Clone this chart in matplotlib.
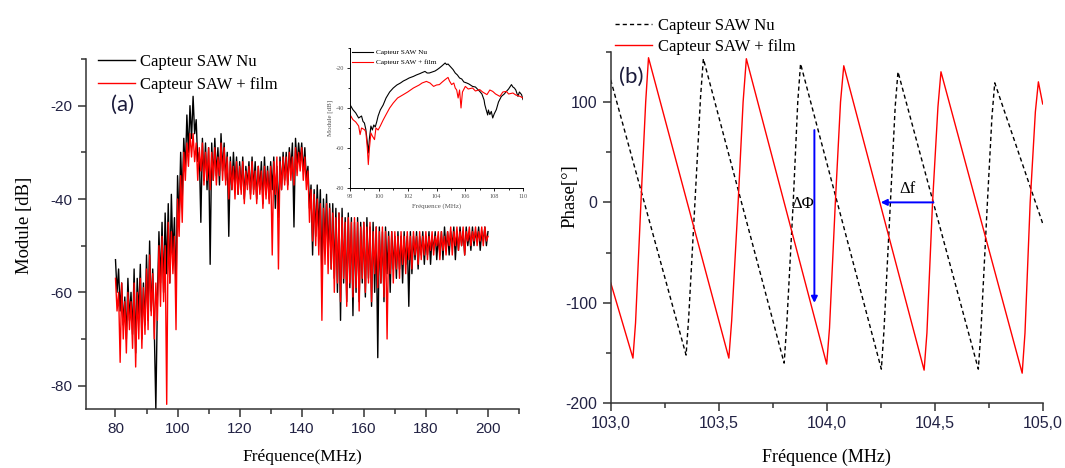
import numpy as np
import matplotlib
matplotlib.use("Agg")
from matplotlib import pyplot as plt
from matplotlib.ticker import MultipleLocator, FuncFormatter

plt.rcParams['axes.unicode_minus'] = False
plt.rcParams['font.family'] = ['Liberation Sans', 'DejaVu Sans']

SERIF = ['Liberation Serif', 'DejaVu Serif']

# ---- panel (a): spectrum, 80..200 MHz, 0.5 MHz step ----
freq_a = np.arange(80.0, 200.01, 0.5)
module_nu = [
    -53, -60, -55, -64, -58, -67, -61, -70, -57, -66,
    -60, -69, -55, -73, -57, -65, -54, -70, -58, -67,
    -52, -66, -49, -64, -55, -68, -85, -62, -47, -58,
    -45, -60, -43, -56, -41, -58, -39, -52, -44, -60,
    -35, -45, -30, -40, -27, -34, -22, -30, -20, -27,
    -18, -26, -23, -32, -30, -45, -27, -36, -28, -38,
    -29, -54, -28, -36, -27, -35, -29, -37, -26, -34,
    -28, -36, -30, -48, -31, -38, -30, -37, -31, -39,
    -32, -38, -31, -40, -33, -37, -32, -39, -31, -38,
    -32, -40, -33, -38, -32, -41, -31, -39, -33, -40,
    -32, -38, -31, -42, -33, -44, -31, -38, -30, -36,
    -30, -37, -29, -34, -28, -46, -27, -33, -28, -32,
    -28, -34, -29, -36, -33, -42, -37, -52, -38, -48,
    -37, -47, -38, -56, -40, -50, -39, -52, -41, -55,
    -41, -57, -42, -60, -43, -66, -42, -58, -44, -62,
    -43, -59, -44, -65, -45, -60, -44, -62, -45, -58,
    -45, -61, -44, -57, -46, -63, -45, -60, -46, -74,
    -46, -58, -47, -62, -46, -56, -47, -60, -47, -55,
    -48, -57, -47, -55, -48, -58, -47, -54, -48, -63,
    -47, -56, -48, -53, -47, -55, -48, -52, -47, -54,
    -48, -52, -47, -54, -48, -51, -47, -53, -48, -52,
    -47, -53, -46, -51, -47, -52, -47, -50, -46, -53,
    -47, -51, -46, -50, -47, -52, -46, -50, -47, -51,
    -46, -50, -47, -49, -46, -51, -47, -49, -46, -50,
    -47,
]
module_film = [
    -57, -64, -60, -75, -58, -70, -62, -73, -60, -68,
    -62, -72, -58, -76, -60, -70, -57, -72, -59, -69,
    -55, -68, -52, -65, -56, -70, -58, -66, -50, -63,
    -48, -62, -50, -84, -45, -58, -47, -56, -48, -68,
    -40, -48, -35, -45, -30, -36, -28, -33, -26, -31,
    -26, -32, -28, -36, -29, -34, -28, -37, -30, -36,
    -29, -38, -30, -36, -29, -37, -31, -35, -28, -36,
    -29, -37, -31, -40, -32, -38, -33, -40, -32, -39,
    -33, -39, -32, -41, -34, -38, -33, -40, -32, -39,
    -34, -41, -33, -39, -34, -42, -33, -40, -34, -41,
    -33, -52, -32, -39, -31, -55, -32, -38, -31, -37,
    -31, -38, -30, -36, -31, -37, -29, -35, -30, -34,
    -29, -36, -31, -38, -34, -45, -38, -49, -39, -50,
    -40, -52, -41, -66, -42, -54, -41, -56, -42, -55,
    -43, -60, -44, -58, -43, -62, -44, -57, -45, -63,
    -44, -58, -45, -61, -44, -59, -45, -64, -46, -57,
    -45, -60, -46, -58, -45, -62, -47, -56, -46, -59,
    -47, -58, -46, -61, -47, -70, -48, -56, -47, -58,
    -47, -55, -48, -57, -47, -54, -48, -56, -47, -53,
    -48, -55, -47, -52, -48, -54, -47, -53, -48, -52,
    -47, -53, -48, -51, -47, -52, -48, -50, -47, -53,
    -47, -51, -48, -52, -47, -50, -46, -52, -47, -50,
    -46, -51, -47, -50, -46, -52, -47, -49, -46, -50,
    -47, -49, -46, -50, -47, -49, -46, -50, -46, -49,
    -48,
]

# ---- inset: zoom 98..110 MHz ----
inset_f_nu = [98.0, 98.2, 98.4, 98.6, 98.8, 98.9, 99.0, 99.1, 99.2, 99.27, 99.35, 99.45,
              99.55, 99.65, 99.75, 99.85, 99.95, 100.1, 100.3, 100.5, 100.75, 101.0, 101.25,
              101.5, 101.7, 101.9, 102.1, 102.4, 102.6, 102.85, 103.0, 103.2, 103.35, 103.5,
              103.7, 103.9, 104.05, 104.2, 104.4, 104.6, 104.7, 104.8, 104.95, 105.15, 105.3,
              105.45, 105.6, 105.75, 105.9, 106.1, 106.25, 106.5, 106.7, 106.9, 107.0, 107.15,
              107.3, 107.35, 107.45, 107.55, 107.6, 107.7, 107.8, 107.9, 108.0, 108.15, 108.3,
              108.5, 108.7, 108.85, 109.0, 109.2, 109.3, 109.4, 109.5, 109.65, 109.75, 109.9, 110.0]
inset_nu = [-38.3, -40.8, -42.5, -45.0, -44.0, -46.7, -47.5, -50.8, -57.0, -62.5, -55.0, -49.0,
            -51.0, -48.5, -49.5, -47.0, -44.0, -41.0, -38.5, -35.0, -32.0, -30.0, -28.5,
            -27.5, -26.5, -25.8, -25.0, -24.2, -23.5, -22.8, -22.3, -21.7, -22.5, -22.5,
            -22.0, -21.5, -20.8, -20.0, -18.8, -17.5, -18.3, -18.0, -19.2, -20.8, -22.5,
            -23.5, -25.0, -25.5, -27.0, -27.5, -28.0, -29.2, -29.5, -31.0, -31.7, -33.0,
            -36.0, -38.3, -41.0, -43.5, -41.0, -43.3, -41.7, -45.0, -43.0, -40.8, -37.0,
            -34.2, -33.0, -31.7, -30.5, -28.3, -29.5, -30.0, -31.0, -34.2, -32.0, -33.3, -35.8]
inset_f_film = [98.0, 98.2, 98.4, 98.6, 98.7, 98.8, 99.0, 99.1, 99.2, 99.27, 99.35, 99.45,
                99.55, 99.7, 99.8, 99.95, 100.1, 100.3, 100.5, 100.75, 101.0, 101.3, 101.7,
                102.0, 102.4, 102.8, 103.0, 103.3, 103.55, 103.8, 104.0, 104.2, 104.4, 104.6,
                104.8, 104.9, 105.05, 105.2, 105.3, 105.4, 105.5, 105.6, 105.7, 105.8, 106.0,
                106.2, 106.5, 106.7, 107.0, 107.2, 107.5, 107.7, 107.9, 108.1, 108.4, 108.6,
                108.85, 109.0, 109.3, 109.5, 109.8, 110.0]
inset_film = [-43.3, -45.8, -47.0, -49.0, -53.3, -50.0, -50.8, -52.0, -60.0, -68.3, -60.0, -52.5,
              -54.0, -55.8, -50.0, -51.0, -49.0, -46.0, -43.3, -40.0, -37.5, -35.0, -33.3,
              -32.0, -30.0, -28.5, -27.5, -26.7, -27.5, -29.2, -28.5, -28.3, -27.0, -25.8,
              -24.7, -26.5, -28.3, -27.5, -30.0, -31.0, -35.0, -31.0, -40.0, -32.0, -29.2,
              -30.5, -30.0, -31.5, -30.8, -32.0, -33.3, -31.0, -31.7, -33.0, -34.2, -32.0,
              -31.7, -33.0, -32.5, -33.5, -34.2, -35.0]

# ---- panel (b): phase, 103..105 MHz ----
phase_f_nu = [103.000, 103.349, 103.361, 103.390, 103.416, 103.429,
              103.803, 103.815, 103.845, 103.866, 103.879,
              104.253, 104.265, 104.295, 104.317, 104.330,
              104.702, 104.714, 104.744, 104.765, 104.778, 105.000]
phase_nu = [122, -152, -115, 0, 105, 143,
            -160, -122, 0, 100, 138,
            -166, -128, 0, 95, 130,
            -166, -128, 0, 85, 119, -21]
phase_f_film = [103.000, 103.103, 103.115, 103.140, 103.162, 103.175,
                103.547, 103.560, 103.590, 103.613, 103.628,
                104.000, 104.013, 104.040, 104.064, 104.079,
                104.451, 104.464, 104.490, 104.515, 104.529,
                104.905, 104.918, 104.942, 104.966, 104.980, 105.000]
phase_film = [-80, -155, -120, 0, 100, 144,
              -155, -118, 0, 100, 143,
              -161, -125, 0, 100, 136,
              -167, -130, 0, 95, 130,
              -170, -130, 0, 90, 120, 98]

LABELS = ['Capteur SAW Nu', 'Capteur SAW + film']

W, H = 1065, 468
fig = plt.figure(figsize=(W / 100, H / 100), dpi=100)


def px_rect(x0, y0, x1, y1):
    return [x0 / W, 1 - y1 / H, (x1 - x0) / W, (y1 - y0) / H]


def style_axes(ax, size):
    for s in ('top', 'right'):
        ax.spines[s].set_visible(False)
    for s in ('left', 'bottom'):
        ax.spines[s].set_linewidth(1.1)
        ax.spines[s].set_color('#333333')
    ax.tick_params(which='major', direction='out', length=6, width=1.1,
                   color='#333333', labelsize=size, labelcolor='#222244')
    ax.tick_params(which='minor', direction='out', length=3.5, width=1.1,
                   color='#333333')


# panel (a)
ax1 = fig.add_axes(px_rect(86, 59, 519, 409))
l1, = ax1.plot(freq_a, module_nu, color='black', lw=1.0)
l2, = ax1.plot(freq_a, module_film, color='red', lw=1.0)
ax1.set_xlim(70.5, 210)
ax1.set_ylim(-85, -10)
ax1.xaxis.set_major_locator(MultipleLocator(20))
ax1.xaxis.set_minor_locator(MultipleLocator(10))
ax1.yaxis.set_major_locator(MultipleLocator(20))
ax1.yaxis.set_minor_locator(MultipleLocator(10))
style_axes(ax1, 11)
ax1.set_xlabel('Fréquence(MHz)', family=SERIF, fontsize=12.5, va='top')
ax1.xaxis.set_label_coords(0.5, (409 - 449) / 350)
ax1.set_ylabel('Module [dB]', family=SERIF, fontsize=13.5)
ax1.yaxis.set_label_coords((33 - 86) / 433, (409 - 225) / 350)
ax1.text(111 / W, 1 - 105 / H, '(a)', transform=fig.transFigure, family='Lato',
         fontsize=16, va='center', ha='left', color='#1a1a3a')
fig.legend([l1, l2], LABELS, loc='upper left', bbox_to_anchor=(98 / W, 1 - 54 / H),
           frameon=False, prop={'family': SERIF, 'size': 12}, handlelength=2.2,
           handletextpad=0.35, labelspacing=0.4, borderpad=0, borderaxespad=0)

# inset
axi = fig.add_axes(px_rect(350, 48, 523, 188))
axi.patch.set_alpha(0)
i1, = axi.plot(inset_f_nu, inset_nu, color='black', lw=0.8)
i2, = axi.plot(inset_f_film, inset_film, color='red', lw=0.8)
axi.set_xlim(98, 110)
axi.set_ylim(-80, -10)
axi.xaxis.set_major_locator(MultipleLocator(2))
axi.xaxis.set_minor_locator(MultipleLocator(1))
axi.yaxis.set_major_locator(MultipleLocator(20))
axi.yaxis.set_minor_locator(MultipleLocator(10))
for s in ('top', 'right'):
    axi.spines[s].set_visible(False)
for s in ('left', 'bottom'):
    axi.spines[s].set_linewidth(0.7)
axi.tick_params(which='major', direction='out', length=2.5, width=0.6, labelsize=4.5,
                labelcolor='#555555', pad=1.5)
axi.tick_params(which='minor', direction='out', length=1.5, width=0.6)
for lab in axi.get_xticklabels() + axi.get_yticklabels():
    lab.set_family(SERIF)
axi.set_xlabel('Fréquence (MHz)', family=SERIF, fontsize=5, color='#555555', labelpad=3)
axi.set_ylabel('Module [dB]', family=SERIF, fontsize=5, color='#555555', labelpad=2)
axi.legend([i1, i2], LABELS, loc='upper left', bbox_to_anchor=(0.01, 0.99),
           frameon=False, prop={'family': SERIF, 'size': 5.2}, handlelength=3.0,
           handletextpad=0.3, labelspacing=0.5, borderpad=0, borderaxespad=0)

# panel (b)
ax2 = fig.add_axes(px_rect(610.7, 51.7, 1042.7, 403.3))
p1, = ax2.plot(phase_f_nu, phase_nu, color='black', lw=1.0, ls=(0, (3, 2.2)))
p2, = ax2.plot(phase_f_film, phase_film, color='red', lw=1.0)
ax2.set_xlim(103, 105)
ax2.set_ylim(-200, 150)
ax2.xaxis.set_major_locator(MultipleLocator(0.5))
ax2.xaxis.set_minor_locator(MultipleLocator(0.25))
ax2.yaxis.set_major_locator(MultipleLocator(100))
ax2.yaxis.set_minor_locator(MultipleLocator(50))
ax2.xaxis.set_major_formatter(FuncFormatter(lambda v, _: f'{v:.1f}'.replace('.', ',')))
style_axes(ax2, 11.5)
ax2.set_xlabel('Fréquence (MHz)', family=SERIF, fontsize=13, va='top')
ax2.xaxis.set_label_coords(0.5, (403.3 - 448.5) / 351.6)
ax2.set_ylabel('Phase[°]', family=SERIF, fontsize=13.5)
ax2.yaxis.set_label_coords((578.5 - 610.7) / 432, (403.3 - 196.5) / 351.6)
ax2.text(619 / W, 1 - 77 / H, '(b)', transform=fig.transFigure, family='Lato',
         fontsize=16, va='center', ha='left', color='#1a1a3a')
fig.legend([p1, p2], LABELS, loc='upper left', bbox_to_anchor=(615 / W, 1 - 18 / H),
           frameon=False, prop={'family': SERIF, 'size': 12}, handlelength=2.2,
           handletextpad=0.4, labelspacing=0.32, borderpad=0, borderaxespad=0)

# annotations
blue = '#0000ff'
ax2.annotate('', xy=(103.943, -100), xytext=(103.943, 72),
             arrowprops=dict(arrowstyle='-|>', color=blue, lw=1.4,
                             mutation_scale=9, shrinkA=0, shrinkB=0))
ax2.annotate('', xy=(104.25, 0), xytext=(104.494, 0),
             arrowprops=dict(arrowstyle='-|>', color=blue, lw=1.4,
                             mutation_scale=9, shrinkA=0, shrinkB=0))
ax2.text(103.887, -2, 'ΔΦ', family=SERIF, fontsize=12, ha='center', va='center')
ax2.text(104.374, 13, 'Δf', family=SERIF, fontsize=12, ha='center', va='center')

fig.savefig('out.png', dpi=100)
